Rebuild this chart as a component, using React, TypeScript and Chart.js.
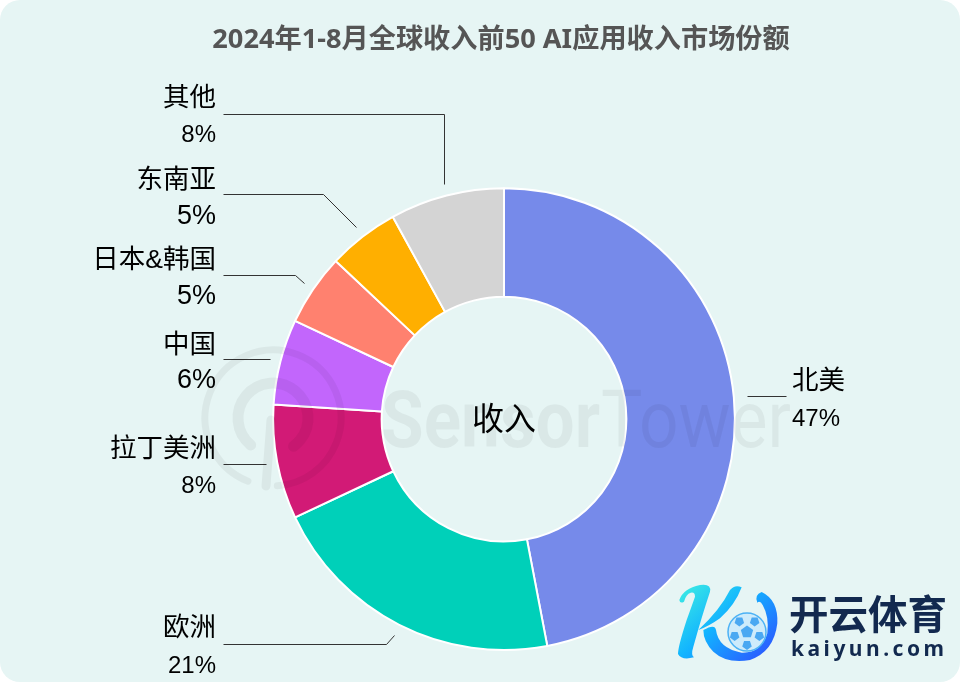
import React, { useEffect, useRef } from "react";
import { Chart, registerables } from "chart.js";

Chart.register(...registerables);

const titleText = "2024年1-8月全球收入前50 AI应用收入市场份额";
const centerText = "收入";
const categories = ["北美", "欧洲", "拉丁美洲", "中国", "日本&韩国", "东南亚", "其他"];
const shares = [47, 21, 8, 6, 5, 5, 8];
const colors = ["#768AEA", "#00D0B9", "#D21A76", "#C266FC", "#FF816F", "#FFAF00", "#D4D4D4"];

const CJK = '"Liberation Sans", "Noto Sans CJK SC", sans-serif';
const TITLE_FONT = '"Noto Sans", "Noto Sans CJK SC", sans-serif';

// Callout layout: label anchor, text baselines and leader-line path
const callouts = [
  { align: "left", x: 792, nameY: 382, pctY: 419, pctSize: 24, path: [[747, 396], [786, 396]] },
  { align: "right", x: 216, nameY: 629, pctY: 666, pctSize: 24, path: [[223, 644], [386, 644], [394, 635]] },
  { align: "right", x: 216, nameY: 450, pctY: 486, pctSize: 24, path: [[223, 464], [266, 464]] },
  { align: "right", x: 216, nameY: 346, pctY: 381, pctSize: 27, path: [[223, 359], [270, 359]] },
  { align: "right", x: 216, nameY: 261, pctY: 297, pctSize: 27, path: [[223, 275], [295, 275], [304, 283]] },
  { align: "right", x: 216, nameY: 181, pctY: 217, pctSize: 27, path: [[223, 194], [323, 194], [356, 227]] },
  { align: "right", x: 216, nameY: 99, pctY: 135, pctSize: 24, path: [[223, 114], [444, 114], [444, 184]] },
];

function fitText(ctx: any, text: string, x: number, y: number, width: number) {
  const w = ctx.measureText(text).width;
  ctx.save();
  ctx.translate(x, y);
  ctx.scale(width / w, 1);
  ctx.fillText(text, 0, 0);
  ctx.restore();
}

function blob(ctx: any, start: number[], segs: number[][]) {
  const px = (X: number) => 670 + X / 3;
  const py = (Y: number) => 580 + Y / 3;
  ctx.beginPath();
  ctx.moveTo(px(start[0]), py(start[1]));
  segs.forEach((s) => ctx.quadraticCurveTo(px(s[0]), py(s[1]), px(s[2]), py(s[3])));
  ctx.closePath();
  ctx.fill();
}

function drawBall(ctx: any, cx: number, cy: number, r: number) {
  ctx.beginPath();
  ctx.arc(cx, cy, r, 0, Math.PI * 2);
  ctx.fillStyle = "#CDEBFB";
  ctx.fill();
  ctx.lineWidth = 1.5;
  ctx.strokeStyle = "#4CB2F5";
  ctx.stroke();
  const poly = (x: number, y: number, s: number, rot: number) => {
    ctx.beginPath();
    for (let i = 0; i < 5; i++) {
      const a = rot + (i * Math.PI * 2) / 5;
      ctx[i ? "lineTo" : "moveTo"](x + s * Math.cos(a), y + s * Math.sin(a));
    }
    ctx.closePath();
    ctx.fill();
  };
  ctx.fillStyle = "#4AA8F2";
  poly(cx, cy, 6.5, -Math.PI / 2);
  for (let i = 0; i < 5; i++) {
    const a = -Math.PI / 2 + Math.PI / 5 + (i * Math.PI * 2) / 5;
    poly(cx + 13 * Math.cos(a), cy + 13 * Math.sin(a), 5, a);
  }
}

const calloutPlugin = {
  id: "callouts",
  afterLayout(chart: any) {
    chart.titleBlock.left -= 6;
  },
  afterDatasetsDraw(chart: any) {
    const { ctx } = chart;
    const arc = chart.getDatasetMeta(0).data[0];
    ctx.save();
    ctx.fillStyle = "#000";
    ctx.textBaseline = "middle";
    callouts.forEach((c, i) => {
      ctx.strokeStyle = "#333";
      ctx.lineWidth = 1;
      ctx.beginPath();
      c.path.forEach(([x, y], k) => (k ? ctx.lineTo(x + 0.5, y + 0.5) : ctx.moveTo(x + 0.5, y + 0.5)));
      ctx.stroke();
      ctx.textAlign = c.align;
      ctx.font = `26.5px ${CJK}`;
      ctx.fillText(categories[i], c.x, c.nameY);
      ctx.font = `${c.pctSize}px ${CJK}`;
      ctx.fillText(`${shares[i]}%`, c.x, c.pctY);
    });
    ctx.textAlign = "center";
    ctx.font = `32px ${CJK}`;
    ctx.fillText(centerText, arc.x, arc.y + 2);
    ctx.restore();
  },
  afterDraw(chart: any) {
    const { ctx } = chart;
    // faint Sensor Tower watermark
    ctx.save();
    ctx.globalAlpha = 0.05;
    ctx.fillStyle = "#000";
    ctx.strokeStyle = "#000";
    ctx.textAlign = "left";
    ctx.textBaseline = "alphabetic";
    ctx.font = 'bold 80px "Roboto", sans-serif';
    fitText(ctx, "Sensor", 381, 447, 219);
    ctx.font = '80px "Roboto", sans-serif';
    fitText(ctx, "Tower", 601, 447, 190);
    ctx.lineCap = "round";
    ctx.lineWidth = 7;
    ctx.beginPath();
    ctx.arc(273, 418, 68, Math.PI * 0.62, Math.PI * 0.48);
    ctx.stroke();
    ctx.lineWidth = 11;
    ctx.beginPath();
    ctx.arc(273, 418, 35, Math.PI * 0.72, Math.PI * 0.3);
    ctx.stroke();
    ctx.lineWidth = 9;
    ctx.beginPath();
    ctx.moveTo(271, 420);
    ctx.lineTo(266, 486);
    ctx.stroke();
    ctx.restore();

    // kaiyun logo
    ctx.save();
    const g = ctx.createLinearGradient(690, 585, 760, 660);
    g.addColorStop(0, "#38E6E6");
    g.addColorStop(0.45, "#12B4FF");
    g.addColorStop(1, "#2A5CFF");
    ctx.fillStyle = g;
    blob(ctx, [28, 60], [
      [40, 25, 90, 15], [125, 10, 120, 35], [95, 110, 70, 200], [62, 225, 72, 232],
      [35, 242, 24, 222], [24, 200, 50, 120], [68, 70, 75, 50], [75, 35, 62, 38],
      [48, 42, 42, 65], [30, 72, 28, 60],
    ]);
    blob(ctx, [85, 150], [[150, 90, 180, 30], [195, 12, 215, 22], [195, 75, 150, 115], [115, 140, 85, 150]]);
    blob(ctx, [100, 150], [
      [135, 130, 138, 150], [145, 205, 215, 218], [275, 220, 292, 160], [298, 110, 278, 75],
      [270, 60, 262, 68], [252, 45, 275, 36], [325, 60, 322, 130], [312, 215, 240, 240],
      [170, 252, 130, 215], [100, 185, 100, 150],
    ]);
    drawBall(ctx, 747, 632, 19);
    ctx.fillStyle = "#12294F";
    ctx.textAlign = "left";
    ctx.textBaseline = "alphabetic";
    ctx.font = 'bold 39.5px "Noto Sans CJK SC", sans-serif';
    ctx.fillText("开云体育", 789, 629);
    ctx.font = 'bold 21px "Noto Sans", sans-serif';
    ctx.letterSpacing = "3.5px";
    ctx.fillText("kaiyun.com", 791, 656);
    ctx.restore();
  },
};

export default function App() {
  const ref = useRef<HTMLCanvasElement>(null);
  useEffect(() => {
    const chart = new Chart(ref.current!, {
      type: "doughnut",
      data: {
        labels: categories,
        datasets: [{ data: shares, backgroundColor: colors, borderColor: "#fff", borderWidth: 2 }],
      },
      options: {
        animation: false,
        responsive: false,
        cutout: "53%",
        layout: { padding: { left: 48, right: 0, top: 0, bottom: 31 } },
        plugins: {
          legend: { display: false },
          tooltip: { enabled: false },
          title: {
            display: true,
            text: titleText,
            color: "#555555",
            font: { family: TITLE_FONT, size: 27.2, weight: "bold" },
            padding: { top: 24.2, bottom: 130.4 },
          },
        },
      },
      plugins: [calloutPlugin],
    } as any);
    return () => chart.destroy();
  }, []);
  return (
    <div style={{ position: "absolute", left: 0, top: 0, width: 960, height: 682, background: "#fff" }}>
      <div style={{ position: "absolute", inset: 0, background: "#E6F5F4", borderRadius: 20 }} />
      <canvas ref={ref} width={960} height={682} style={{ position: "absolute", left: 0, top: 0, display: "block" }} />
    </div>
  );
}
